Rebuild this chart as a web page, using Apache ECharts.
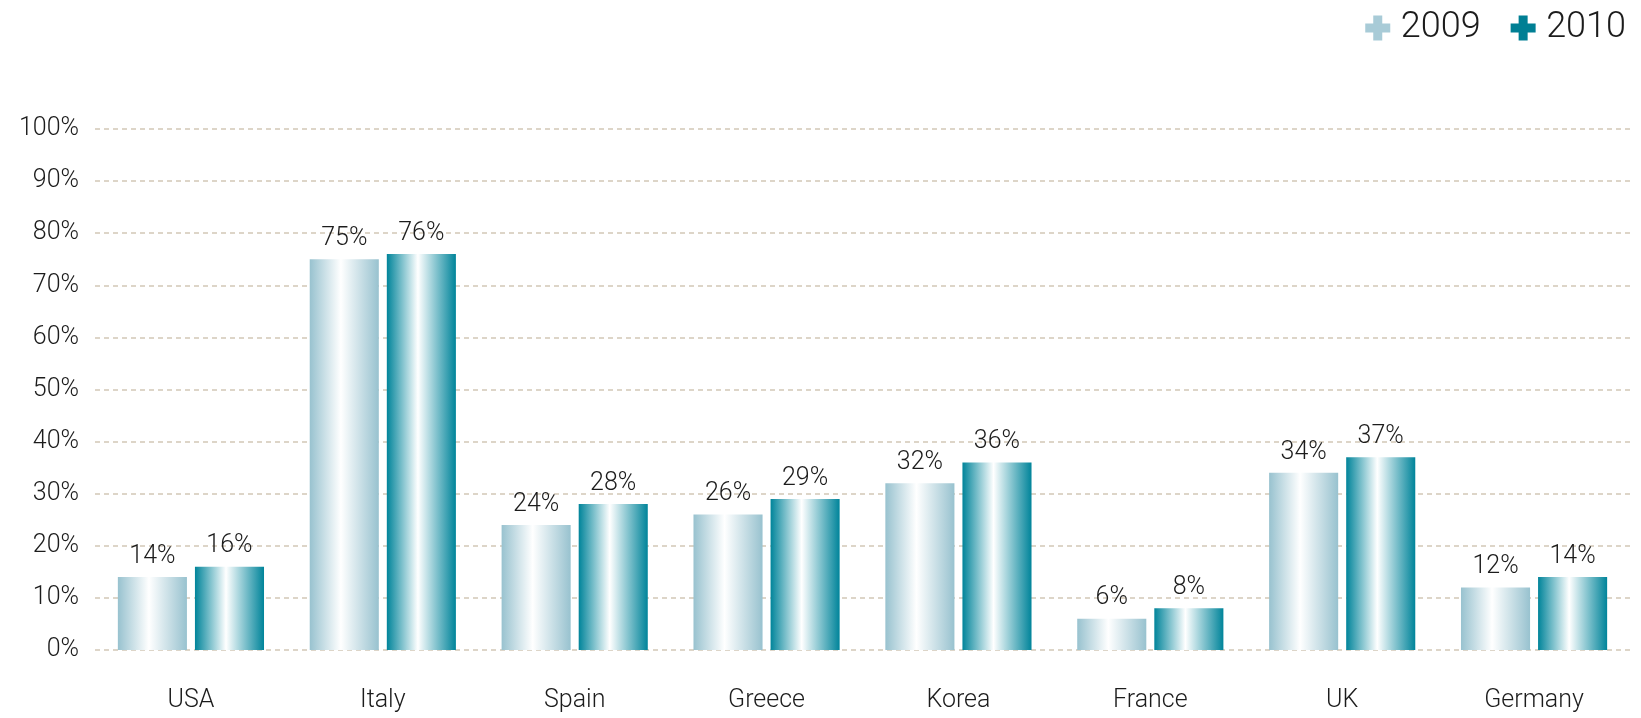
<!DOCTYPE html>
<html>
<head>
<meta charset="utf-8">
<script src="https://cdn.jsdelivr.net/npm/echarts@6/dist/echarts.min.js"></script>
<style>
html,body{margin:0;padding:0;background:#fff;}
#chart{width:1641px;height:718px;}
</style>
</head>
<body>
<div id="chart"></div>
<script>
const categories = ['USA', 'Italy', 'Spain', 'Greece', 'Korea', 'France', 'UK', 'Germany'];
const values2009 = [14, 75, 24, 26, 32, 6, 34, 12];
const values2010 = [16, 76, 28, 29, 36, 8, 37, 14];
const seriesNames = ['2009', '2010'];
const yTicks = [0, 10, 20, 30, 40, 50, 60, 70, 80, 90, 100];

const FONT = 'Roboto';
const WEIGHT = 300;
const TXT = '#1c1c1c';
const plus = 'path://M8,0 L17,0 L17,8 L25,8 L25,17 L17,17 L17,25 L8,25 L8,17 L0,17 L0,8 L8,8 Z';

function grad(edge, edgeR) {
  return new echarts.graphic.LinearGradient(0, 0, 1, 0, [
    {offset: 0, color: edge},
    {offset: 0.45, color: '#ffffff'},
    {offset: 1, color: edgeR}
  ]);
}

const chart = echarts.init(document.getElementById('chart'), null, {renderer: 'canvas'});
chart.setOption({
  animation: false,
  textStyle: {fontFamily: FONT, fontWeight: WEIGHT},
  legend: {
    data: [
      {name: seriesNames[0], icon: plus, itemStyle: {color: '#a8cbd7'}},
      {name: seriesNames[1], icon: plus, itemStyle: {color: '#007f94'}}
    ],
    right: 10,
    top: 5,
    itemWidth: 26,
    itemHeight: 25,
    itemGap: 30,
    textStyle: {fontSize: 36, color: TXT, fontFamily: FONT, fontWeight: WEIGHT, padding: [0, 0, 0, 5]}
  },
  grid: {left: 95, right: 11, top: 129, bottom: 68},
  xAxis: {
    type: 'category',
    data: categories,
    axisLine: {show: false},
    axisTick: {show: false},
    axisLabel: {fontSize: 25, color: TXT, margin: 38, fontFamily: FONT, fontWeight: WEIGHT}
  },
  yAxis: {
    type: 'value',
    min: yTicks[0],
    max: yTicks[yTicks.length - 1],
    interval: 10,
    axisLine: {show: false},
    axisTick: {show: false},
    axisLabel: {fontSize: 25, color: TXT, margin: 16, formatter: '{value}%', fontFamily: FONT, fontWeight: WEIGHT},
    splitLine: {lineStyle: {color: '#ddd5c8', width: 2, type: [5, 4]}}
  },
  series: [
    {
      name: seriesNames[0],
      type: 'bar',
      data: values2009,
      barWidth: '36%',
      barGap: '11.6%',
      itemStyle: {color: grad('#98c2cf', '#98c2cf')},
      label: {show: true, position: 'top', distance: 8, formatter: '{c}%', fontSize: 25, color: TXT, fontFamily: FONT, fontWeight: WEIGHT}
    },
    {
      name: seriesNames[1],
      type: 'bar',
      data: values2010,
      barWidth: '36%',
      itemStyle: {color: grad('#00849a', '#00849a')},
      label: {show: true, position: 'top', distance: 8, formatter: '{c}%', fontSize: 25, color: TXT, fontFamily: FONT, fontWeight: WEIGHT}
    }
  ]
});
</script>
</body>
</html>
